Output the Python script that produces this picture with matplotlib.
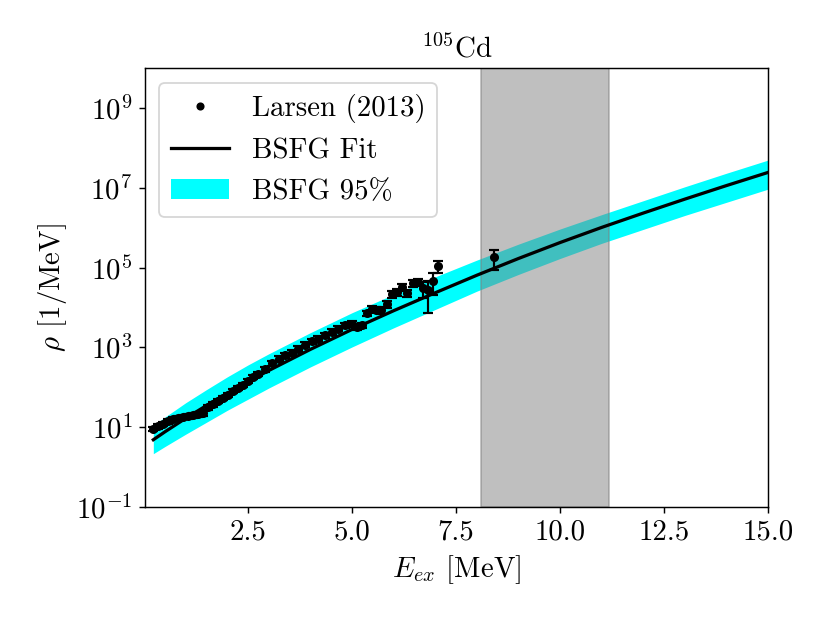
import numpy as np
import matplotlib
matplotlib.use("Agg")
import matplotlib.pyplot as plt
from matplotlib.ticker import NullLocator

plt.rcParams['mathtext.fontset'] = 'cm'
plt.rcParams['font.family'] = 'serif'
plt.rcParams['font.serif'] = ['cmr10']
plt.rcParams['axes.formatter.use_mathtext'] = True
plt.rcParams['axes.unicode_minus'] = False

# ---- data ----
E_data = [0.22, 0.33, 0.45, 0.57, 0.69, 0.81, 0.93, 1.05, 1.17, 1.29, 1.41,
          1.53, 1.65, 1.77, 1.90, 2.02, 2.14, 2.26, 2.38, 2.50, 2.62, 2.74,
          2.90, 3.07, 3.23, 3.39, 3.55, 3.71, 3.87, 4.03, 4.19, 4.35, 4.51,
          4.67, 4.83, 4.99, 5.11, 5.23, 5.35, 5.47, 5.57, 5.69, 5.83, 5.95,
          6.07, 6.19, 6.31, 6.47, 6.59, 6.71, 6.83, 6.95, 7.07, 8.42]
log_rho_data = [0.955, 1.018, 1.080, 1.143, 1.206, 1.231, 1.256, 1.269, 1.294,
                1.319, 1.344, 1.495, 1.570, 1.646, 1.721, 1.809, 1.897, 1.972,
                2.060, 2.161, 2.249, 2.330, 2.450, 2.600, 2.719, 2.802, 2.869,
                2.970, 3.070, 3.153, 3.221, 3.304, 3.387, 3.472, 3.555, 3.598,
                3.513, 3.555, 3.857, 3.970, 3.945, 3.945, 4.095, 4.347, 4.397,
                4.510, 4.359, 4.603, 4.643, 4.477, 4.435, 4.668, 5.038, 5.256]
rel_err_data = [0.12] * 22 + [0.15] * 19 + [0.2] * 8 + [0.43, 0.74, 0.56, 0.32, 0.52]

E_fit = [0.22, 0.5, 1.0, 1.5, 2.0, 2.5, 3.0, 4.0, 5.0, 6.0, 7.0, 8.0, 9.0,
         10.0, 11.0, 12.0, 13.0, 14.0, 15.0]
log_rho_fit = [0.68, 0.88, 1.22, 1.54, 1.85, 2.14, 2.42, 2.95, 3.45, 3.92,
               4.37, 4.81, 5.23, 5.63, 6.01, 6.37, 6.72, 7.06, 7.39]
log_rho_hi = [1.04, 1.25, 1.61, 1.94, 2.26, 2.56, 2.84, 3.37, 3.87, 4.33,
              4.77, 5.19, 5.59, 5.97, 6.33, 6.68, 7.03, 7.37, 7.70]
log_rho_lo = [0.33, 0.51, 0.82, 1.12, 1.42, 1.70, 1.98, 2.51, 3.01, 3.49,
              3.95, 4.41, 4.83, 5.23, 5.61, 5.96, 6.31, 6.64, 6.97]

span_lo, span_hi = 8.1, 11.17
x_ticks = [2.5, 5.0, 7.5, 10.0, 12.5, 15.0]
x_ticklabels = ['2.5', '5.0', '7.5', '10.0', '12.5', '15.0']
y_ticks = [1e-1, 1e1, 1e3, 1e5, 1e7, 1e9]
y_ticklabels = [r'$10^{-1}$', r'$10^{1}$', r'$10^{3}$', r'$10^{5}$', r'$10^{7}$', r'$10^{9}$']

rho_data = 10 ** np.array(log_rho_data)
yerr = rho_data * np.array(rel_err_data)
rho_fit = 10 ** np.array(log_rho_fit)
rho_hi = 10 ** np.array(log_rho_hi)
rho_lo = 10 ** np.array(log_rho_lo)

fig = plt.figure(figsize=(830 / 130, 623 / 130), dpi=130)
ax = fig.add_axes([0.1747, 0.1867, 0.7506, 0.7034])

ax.fill_between(E_fit, rho_lo, rho_hi, color='cyan', lw=0, zorder=1, label='BSFG 95%')
ax.axvspan(span_lo, span_hi, color='gray', alpha=0.5, zorder=1.5)
ax.plot(E_fit, rho_fit, color='black', lw=1.8, zorder=2, label='BSFG Fit')
ax.errorbar(E_data, rho_data, yerr=yerr, fmt='o', color='black', ms=4,
            capsize=2.5, elinewidth=1.2, capthick=1.2, zorder=3)
ax.plot([], [], 'o', color='black', ms=3.5, label='Larsen (2013)')

ax.set_yscale('log')
ax.set_xlim(0.02, 15.0)
ax.set_ylim(1e-1, 1e10)
ax.set_xticks(x_ticks, labels=x_ticklabels)
ax.set_yticks(y_ticks, labels=y_ticklabels)
ax.yaxis.set_minor_locator(NullLocator())
ax.tick_params(labelsize=16)

ax.set_xlabel(r'$E_{ex}$ [MeV]', fontsize=16)
ax.set_ylabel(r'$\rho$ [1/MeV]', fontsize=16)
ax.set_title(r'$^{105}$Cd', fontsize=16)

h, l = ax.get_legend_handles_labels()
order = [l.index('Larsen (2013)'), l.index('BSFG Fit'), l.index('BSFG 95%')]
ax.legend([h[i] for i in order], [l[i] for i in order], loc='upper left', fontsize=16)

fig.savefig('out.png', dpi=130)
